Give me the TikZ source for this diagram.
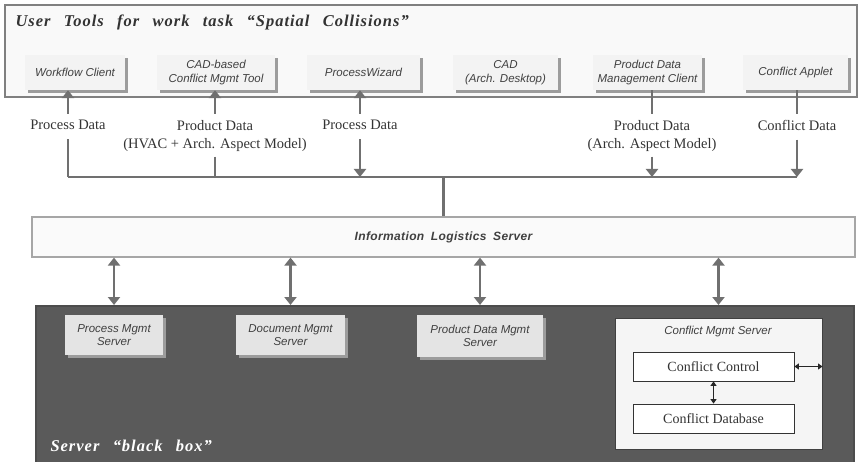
\documentclass[tikz,border=0pt]{standalone}
\usepackage{fontspec}
\setmainfont{Liberation Serif}
\setsansfont{Liberation Sans}
\newfontfamily\headfont[WordSpace=2.6,LetterSpace=6]{Liberation Serif}
\newfontfamily\infofont[WordSpace=1.8,LetterSpace=3]{Liberation Sans}
\usetikzlibrary{arrows.meta,shadows}

\definecolor{linegray}{HTML}{707070}
\definecolor{boxgray}{HTML}{F3F3F3}
\definecolor{shadegray}{HTML}{9C9C9C}
\definecolor{darkbox}{HTML}{5A5A5A}
\definecolor{srvgray}{HTML}{E4E4E4}

\tikzset{
  flow/.style={draw=linegray, line width=2.5pt},
  flowarr/.style={flow, -{Triangle[length=8pt,width=12pt]}},
  flowdbl/.style={flow, {Triangle[length=8pt,width=12pt]}-{Triangle[length=8pt,width=12pt]}},
  toolbox/.style={fill=boxgray, minimum height=35, inner xsep=1pt, align=center,
    font=\sffamily\itshape\fontsize{11.5}{13.5}\selectfont, text=black!75,
    drop shadow={shadow xshift=3pt, shadow yshift=-3pt, fill=shadegray, opacity=1}},
  srvbox/.style={toolbox, fill=srvgray, minimum height=40},
  datalabel/.style={font=\fontsize{14.5}{18}\selectfont, text=black!80, align=center, inner sep=1pt},
  ctrlbox/.style={draw=black!80, fill=white, line width=0.8pt, minimum width=161, minimum height=29,
    font=\fontsize{14}{16}\selectfont, text=black!80},
  ctrlarr/.style={draw=black!85, line width=1.1pt, {Triangle[length=4.5pt,width=6pt]}-{Triangle[length=4.5pt,width=6pt]}},
}

\begin{document}
\begin{tikzpicture}[x=1pt,y=-1pt]
  \useasboundingbox (0,0) rectangle (861,462);
  \clip (0,0) rectangle (861,462);

  % frame of the client tools
  \node[draw=black!50, fill=gray!5, line width=1.6pt, minimum width=852, minimum height=92, inner sep=0] (tools) at (431,51) {};
  \node[anchor=west, font=\headfont\bfseries\itshape\fontsize{16.5}{18}\selectfont, text=black!80] (title) at (12,22)
    {User Tools for work task “Spatial Collisions”};

  % tools
  \node[toolbox, minimum width=100] (wfc) at (75,72.5) {Workflow Client};
  \node[toolbox, minimum width=118] (cad) at (216,72.5) {CAD-based\\Conflict Mgmt Tool};
  \node[toolbox, minimum width=113] (wiz) at (363.5,72.5) {ProcessWizard};
  \node[toolbox, minimum width=105] (arch) at (505.5,72.5) {CAD\\(Arch. Desktop)};
  \node[toolbox, minimum width=109] (pdmc) at (647.5,72.5) {Product Data\\Management Client};
  \node[toolbox, minimum width=105] (app) at (795.5,72.5) {Conflict Applet};

  % data labels
  \node[datalabel, anchor=north] (lwf) at (68,119) {Process Data};
  \node[datalabel, anchor=north] (lcad) at (215,119) {Product Data\\(HVAC + Arch. Aspect Model)};
  \node[datalabel, anchor=north] (lwiz) at (360,119) {Process Data};
  \node[datalabel, anchor=north] (lpdm) at (652,119) {Product Data\\(Arch. Aspect Model)};
  \node[datalabel, anchor=north] (lapp) at (797,119) {Conflict Data};

  % links to the tools
  \draw[flowarr] ([yshift=5pt]lwf.north) -- (lwf.north |- wfc.south);
  \draw[flowarr] ([yshift=5pt]lcad.north) -- (lcad.north |- cad.south);
  \draw[flowarr] ([yshift=5pt]lwiz.north) -- (lwiz.north |- wiz.south);
  \draw[flow] ([yshift=5pt]lpdm.north) -- (lpdm.north |- pdmc.south);
  \draw[flow] ([yshift=5pt]lapp.north) -- (lapp.north |- app.south);

  % bus to the logistics server
  \coordinate (busw) at (68,177);
  \coordinate (buse) at (797,177);
  \draw[flow] (busw) -- (buse);
  \draw[flow] ([yshift=-8pt]lwf.south) -- (busw);
  \draw[flow] ([yshift=-4pt]lcad.south) -- (lcad.south |- busw);
  \draw[flowarr] ([yshift=-8pt]lwiz.south) -- (lwiz.south |- busw);
  \draw[flowarr] ([yshift=-4pt]lpdm.south) -- (lpdm.south |- busw);
  \draw[flowarr] ([yshift=-8pt]lapp.south) -- (buse);

  \node[draw=black!35, fill=gray!4, line width=1.2pt, minimum width=823, minimum height=40,
    font=\infofont\bfseries\itshape\fontsize{12}{14}\selectfont, text=black!75] (ils) at (443.5,237)
    {Information Logistics Server};
  \draw[flow] (ils.north) -- (ils.north |- busw);

  % server side
  \node[draw=black!70, fill=darkbox, line width=1.5pt, minimum width=818, minimum height=180,
    anchor=north west, inner sep=0] (bbox) at (35,305) {};
  \node[anchor=west, text=white, font=\headfont\bfseries\itshape\fontsize{16.5}{18}\selectfont] (bblabel) at (47,446)
    {Server “black box”};

  \node[srvbox, minimum width=98] (pms) at (114,335) {Process Mgmt\\Server};
  \node[srvbox, minimum width=109] (dms) at (290.5,335) {Document Mgmt\\Server};
  \node[srvbox, minimum width=126, minimum height=42] (pdms) at (480,336) {Product Data Mgmt\\Server};
  \node[draw=black!75, fill=gray!8, line width=1pt, minimum width=207, minimum height=131] (cms) at (718.5,383.5) {};
  \node[font=\sffamily\itshape\fontsize{11.5}{14}\selectfont, text=black!75] (cmslabel) at (718,332) {Conflict Mgmt Server};
  \node[ctrlbox] (ctrl) at (713.5,366.5) {Conflict Control};
  \node[ctrlbox] (cdb) at (713.5,418.5) {Conflict Database};
  \draw[ctrlarr] (ctrl) -- (cdb);
  \draw[ctrlarr] (ctrl.east) -- (ctrl.east -| cms.east);

  \foreach \srv in {pms,dms,pdms,cms}
    \draw[flowdbl] (ils.south -| \srv) -- (bbox.north -| \srv);
\end{tikzpicture}
\end{document}
